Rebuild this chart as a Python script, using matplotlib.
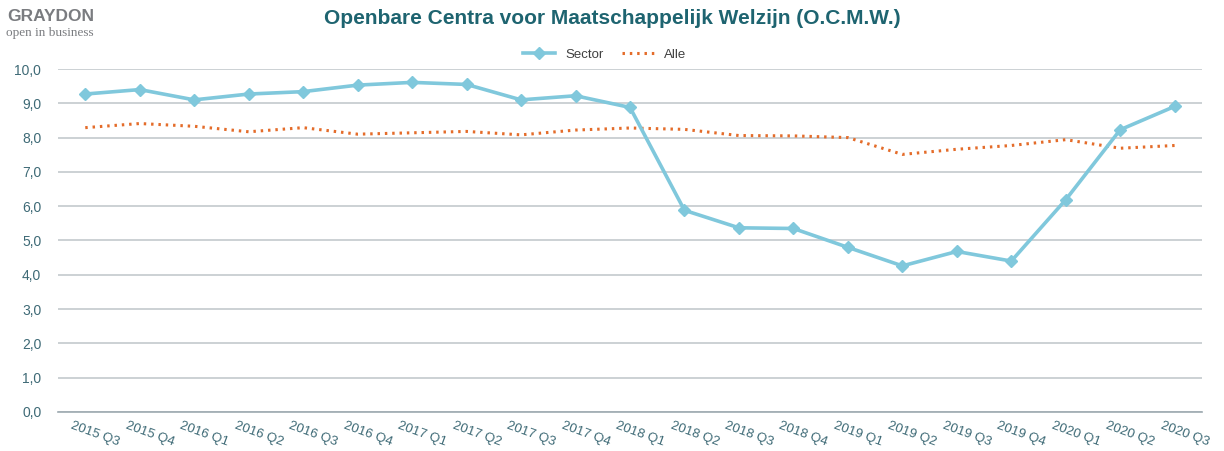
import matplotlib
matplotlib.use("Agg")
import matplotlib.pyplot as plt
import matplotlib.transforms as mtransforms
from matplotlib.ticker import FuncFormatter

plt.rcParams["font.family"] = ["Liberation Sans", "DejaVu Sans"]

quarters = ["2015 Q3", "2015 Q4", "2016 Q1", "2016 Q2", "2016 Q3", "2016 Q4",
            "2017 Q1", "2017 Q2", "2017 Q3", "2017 Q4", "2018 Q1", "2018 Q2",
            "2018 Q3", "2018 Q4", "2019 Q1", "2019 Q2", "2019 Q3", "2019 Q4",
            "2020 Q1", "2020 Q2", "2020 Q3"]
sector = [9.27, 9.40, 9.10, 9.27, 9.34, 9.53, 9.61, 9.55, 9.10, 9.22, 8.88,
          5.88, 5.37, 5.35, 4.80, 4.26, 4.68, 4.40, 6.19, 8.23, 8.91]
alle = [8.29, 8.41, 8.33, 8.17, 8.29, 8.10, 8.14, 8.18, 8.08, 8.22, 8.28,
        8.24, 8.06, 8.05, 8.00, 7.51, 7.66, 7.77, 7.94, 7.69, 7.77]

blue = "#80C8DC"
orange = "#E46C2A"
teal = "#1E6470"
tick_col = "#3E6A76"

fig = plt.figure(figsize=(12.24, 4.51), dpi=100)
ax = fig.add_axes([0.0474, 0.0865, 0.9346, 0.7605])

x = list(range(len(quarters)))
ax.plot(x, sector, color=blue, lw=2.6, marker="D", ms=6.5, label="Sector", zorder=3)
ax.plot(x, alle, color=orange, lw=2.2, ls=(0, (0.8, 1.6)), label="Alle", zorder=2)

ax.set_xlim(-0.5, len(quarters) - 0.5)
ax.set_ylim(0, 10)
ax.set_yticks(range(0, 11))
ax.yaxis.set_major_formatter(FuncFormatter(lambda v, p: f"{v:.1f}".replace(".", ",")))
ax.grid(axis="y", color="#C3C9CD", lw=1.2)
ax.set_axisbelow(True)
for s in ["top", "right", "left"]:
    ax.spines[s].set_visible(False)
ax.spines["bottom"].set_color("#9DAAB0")
ax.spines["bottom"].set_linewidth(1.2)
ax.tick_params(axis="both", length=0, colors=tick_col, labelsize=10)
ax.tick_params(axis="y", pad=12)

ax.set_xticks(x)
ax.set_xticklabels(quarters, rotation=-20, ha="center", rotation_mode="default", fontsize=9.5)
offset = mtransforms.ScaledTranslation(0.1, -0.03, fig.dpi_scale_trans)
for lbl in ax.get_xticklabels():
    lbl.set_transform(lbl.get_transform() + offset)

ax.legend(loc="lower center", bbox_to_anchor=(0.478, 0.99), ncol=2, frameon=False,
          fontsize=9.5, labelcolor="#404040", handlelength=2.4, columnspacing=1.4)

fig.text(0.5, 0.96, "Openbare Centra voor Maatschappelijk Welzijn (O.C.M.W.)",
         ha="center", va="center", fontsize=15, fontweight="bold", color=teal)
fig.text(0.006, 0.963, "GRAYDON", ha="left", va="center", fontsize=12.5,
         fontweight="bold", color="#7A7C80")
fig.text(0.005, 0.927, "open in business", ha="left", va="center", fontsize=9.5,
         family=["Liberation Serif", "DejaVu Serif"], color="#7A7C80")

fig.savefig("out.png", dpi=100)
